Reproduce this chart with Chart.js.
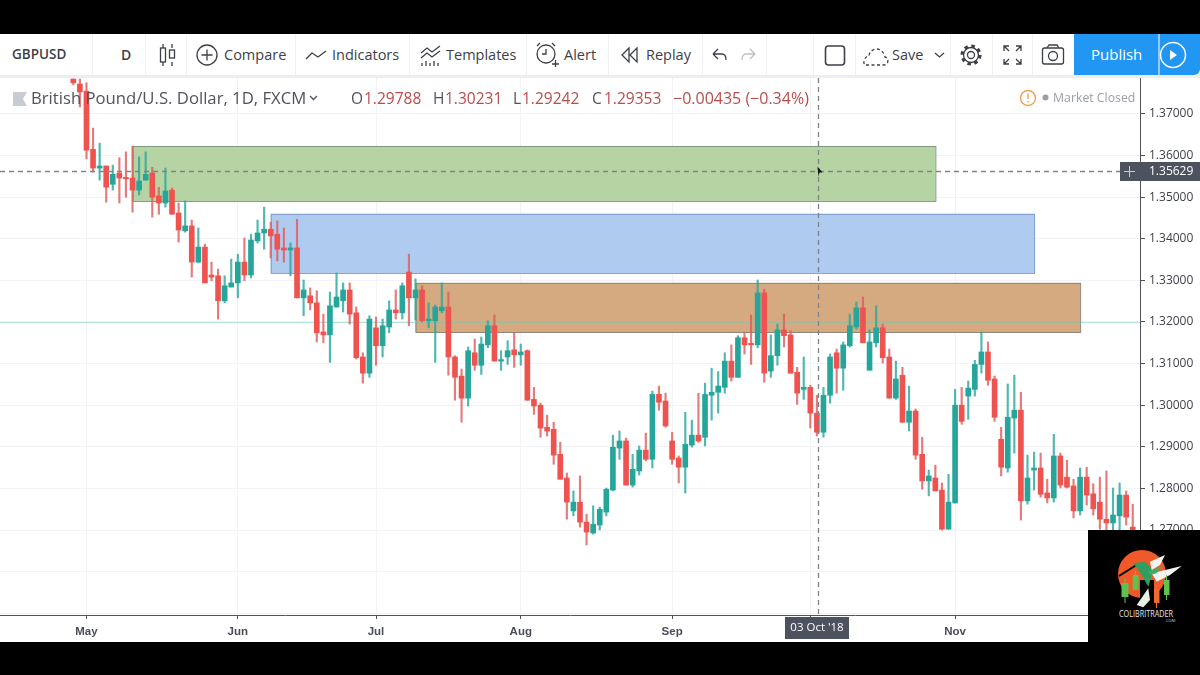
<!DOCTYPE html>
<html>
<head>
<meta charset="utf-8">
<title>GBPUSD</title>
<script src="https://cdn.jsdelivr.net/npm/chart.js@4"></script>
<style>
html, body { margin: 0; padding: 0; background: #000; }
#page { position: relative; width: 1200px; height: 675px; overflow: hidden; background: #000;
  font-family: "Open Sans", sans-serif; }
#toolbar { position: absolute; left: 0; top: 34px; width: 1200px; height: 41px; background: #fff; }
#band { position: absolute; left: 0; top: 75px; width: 1200px; height: 3px; background: #eceef1; }
#toolbar span { position: absolute; top: 0; line-height: 41px; font-size: 14.5px; color: #3d3f48; white-space: nowrap; }
#toolbar i { position: absolute; top: 0; width: 1px; height: 41px; background: #eff0f2; }
#toolbar svg { position: absolute; left: 0; top: 0; }
#pub { position: absolute; left: 1074px; top: 0; width: 126px; height: 41px; background: #2196f3; border-radius: 0 0 6px 0; }
#chartWrap { position: absolute; left: 0; top: 78px; width: 1200px; height: 564px; background: #fff; }
#legend { position: absolute; left: 0; top: 78px; width: 1140px; height: 40px; pointer-events: none; }
#legend span { position: absolute; top: 8px; line-height: 24px; white-space: nowrap; }
#logo { position: absolute; left: 1088px; top: 530px; }
</style>
</head>
<body>
<div id="page">
  <div id="toolbar">
    <i style="left:92px"></i><i style="left:145px"></i><i style="left:186px"></i><i style="left:295px"></i><i style="left:409px"></i><i style="left:526px"></i><i style="left:608px"></i><i style="left:702px"></i><i style="left:766px"></i><i style="left:813px"></i><i style="left:855px"></i><i style="left:950px"></i><i style="left:992px"></i><i style="left:1032px"></i>
    <div id="pub"></div>
    <svg width="1200" height="41" fill="none" stroke="#3d3f48" stroke-width="1.3">
      <path d="M163 10v4M163 28v4M172 10v4M172 28v4"/><rect x="160.5" y="14" width="5" height="14"/><rect x="169.5" y="16" width="5" height="8"/>
      <circle cx="207" cy="21" r="10"/><path d="M207 15.5v11M201.5 21h11"/>
      <path d="M306 25l6-6 6 4 8-6"/>
      <path d="M421 19l6-5 5 4 8-6M421 24l6-5 5 4 8-6M422 32v-3M426 32v-5M430 32v-3M434 32v-5M438 32v-3"/>
      <circle cx="546" cy="20" r="9"/><path d="M546 15v5h-4M537 12l3-3M555 12l-3-3M552 30h7M555.500 26v7"/>
      <path d="M629 14l-7 7 7 7zM637 14l-7 7 7 7z"/>
      <path d="M713 20l5-5M713 20l5 5M713 20h9c3 0 4 3 4 6"/>
      <path stroke="#bcc0c6" d="M755 20l-5-5M755 20l-5 5M755 20h-9c-3 0-4 3-4 6"/>
      <rect x="825.500" y="12" width="19" height="19" rx="3" stroke-width="1.6"/>
      <path stroke-dasharray="3 2.500" d="M866 31h18c5 0 5-7 1-8-1-6-7-10-12-7-3 2-4 4-4 6-5 0-7 9-3 9z"/>
      <path d="M935 19l4.500 4 4.500-4"/>
      <circle cx="971" cy="21" r="3.500"/><circle cx="971" cy="21" r="7.500"/><circle cx="971" cy="21" r="9" stroke-width="3" stroke-dasharray="3.500 3.570"/>
      <path d="M1004 17v-5h5M1021 17v-5h-5M1004 25v5h5M1021 25v5h-5M1004 12l5 5M1021 12l-5 5M1004 30l5-5M1021 30l-5-5"/>
      <rect x="1042.500" y="14" width="21" height="16" rx="2"/><circle cx="1053" cy="22" r="4.500"/><path d="M1047 14l2-3h8l2 3"/>
      <path stroke="#fff" d="M1159 0v41" stroke-width="1"/>
      <circle cx="1173" cy="21" r="12.500" stroke="#fff" stroke-width="1.500"/><path d="M1170 16l7 5-7 5z" fill="#fff" stroke="none"/>
    </svg>
    <span style="left:12px;font-weight:600;font-size:13.500px">GBPUSD</span>
    <span style="left:121px;font-weight:600;font-size:14px">D</span>
    <span style="left:224px">Compare</span>
    <span style="left:332px">Indicators</span>
    <span style="left:446px">Templates</span>
    <span style="left:564px">Alert</span>
    <span style="left:646px">Replay</span>
    <span style="left:892px">Save</span>
    <span style="left:1091px;color:#fff;font-size:15px">Publish</span>
  </div>
  <div id="band"></div>
  <div id="chartWrap"><canvas id="priceChart" width="1200" height="564"></canvas></div>
  <div id="legend">
    <svg style="position:absolute;left:13px;top:14px" width="15" height="14"><path d="M0 0h14l-4 7 4 7H0z" fill="#c9cdd3"/></svg>
    <span style="left:31px;font-size:16.700px;color:#50535e">British Pound/U.S. Dollar, 1D, FXCM</span>
    <svg style="position:absolute;left:309px;top:17px" width="9" height="7" fill="none" stroke="#50535e" stroke-width="1.300"><path d="M1 1l3.500 3.500L8 1"/></svg>
    <span style="left:351px;font-size:15.500px;color:#50535e">O</span>
    <span style="left:364px;font-size:15.500px;color:#b84c4c">1.29788</span>
    <span style="left:433px;font-size:15.500px;color:#50535e">H</span>
    <span style="left:445px;font-size:15.500px;color:#b84c4c">1.30231</span>
    <span style="left:513px;font-size:15.500px;color:#50535e">L</span>
    <span style="left:522px;font-size:15.500px;color:#b84c4c">1.29242</span>
    <span style="left:592px;font-size:15.500px;color:#50535e">C</span>
    <span style="left:604px;font-size:15.500px;color:#b84c4c">1.29353</span>
    <span style="left:673px;font-size:16px;color:#b84c4c">−0.00435 (−0.34%)</span>
    <svg style="position:absolute;left:1019px;top:11px" width="18" height="18" fill="none" stroke="#f0a050" stroke-width="1.400"><circle cx="9" cy="9" r="7.500"/><path d="M9 4.500v5.500M9 12v1.500"/></svg>
    <svg style="position:absolute;left:1042px;top:16px" width="7" height="7"><circle cx="3.500" cy="3.500" r="3" fill="#9a9ea6"/></svg>
    <span style="left:1053px;font-size:12.300px;color:#9a9ea6">Market Closed</span>
  </div>
  <svg id="logo" width="112" height="112">
    <rect width="112" height="112" fill="#000"/>
    <circle cx="54" cy="44" r="24" fill="#f0592a"/>
    <path d="M31 46l19-12" stroke="#000" stroke-width="2"/>
    <rect x="52" y="50" width="14" height="24" fill="#000"/>
    <path d="M45.300 33.300L57 31.700 65.300 40 60.300 56.700 53.700 45z" fill="#2f9e5f"/>
    <path d="M62 31.700L77 25 72 35 63.700 40zM63.700 43.300L93.700 36 82 45 68.700 51.700z" fill="#f3f3ef"/>
    <path d="M60.300 41.700L73.700 36 68.700 43.300 62 45z" fill="#3fae6a"/>
    <path d="M48.700 75L60.300 58.300 62 70 55.300 77.300z" fill="#e8efe4"/>
    <path d="M36.500 48h1v5h3v14h-3v6h-1v-6h-3V53h3z" fill="#5fc24e"/>
    <path d="M47 41h1v4h2.500v15H44.700V45H47z" fill="#5fc24e"/>
    <path d="M68 54h1v5h2.500v14H69v5h-1v-5h-2V59h2z" fill="#f06a30"/>
    <path d="M78 45h1v5h2.500v15H79v5h-1v-5h-2V50h2z" fill="#5fc24e"/>
    <text x="31" y="87" textLength="54" lengthAdjust="spacingAndGlyphs" font-size="8.500" fill="#e8e8e8" font-family="Open Sans, sans-serif">COLIBRITRADER</text>
    <text x="77" y="92" font-size="4" fill="#cccccc" font-family="Open Sans, sans-serif">.COM</text>
  </svg>
</div>
<script>
// daily GBPUSD candles
const highs = [
  1.3784,1.3784,1.3775,1.3666,1.3630,1.3575,1.3577,1.3595,1.3609,1.3623,
  1.3597,1.3609,1.3572,1.3524,1.3570,1.3522,1.3486,1.3491,1.3445,1.3426,
  1.3387,1.3344,1.3327,1.3311,1.3351,1.3363,1.3402,1.3411,1.3445,1.3476,
  1.3440,1.3443,1.3426,1.3390,1.3447,1.3301,1.3282,1.3275,1.3219,1.3272,
  1.3318,1.3294,1.3294,1.3236,1.3126,1.3215,1.3212,1.3207,1.3251,1.3277,
  1.3294,1.3363,1.3304,1.3287,1.3246,1.3241,1.3294,1.3272,1.3119,1.3087,
  1.3140,1.3159,1.3164,1.3203,1.3217,1.3131,1.3155,1.3174,1.3147,1.3133,
  1.3043,1.3005,1.2976,1.2959,1.2911,1.2837,1.2794,1.2830,1.2738,1.2758,
  1.2755,1.2801,1.2928,1.2938,1.2921,1.2882,1.2902,1.2933,1.3034,1.3046,
  1.3029,1.2935,1.2878,1.2983,1.2964,1.3029,1.3053,1.3089,1.3081,1.3126,
  1.3145,1.3167,1.3174,1.3217,1.3301,1.3279,1.3169,1.3195,1.3219,1.3179,
  1.3091,1.3116,1.3048,1.3024,1.3043,1.3123,1.3135,1.3152,1.3219,1.3248,
  1.3260,1.3181,1.3239,1.3195,1.3135,1.3106,1.3091,1.3046,1.2991,1.2923,
  1.2844,1.2856,1.2813,1.2834,1.3038,1.3043,1.3058,1.3108,1.3176,1.3152,
  1.3070,1.2947,1.3051,1.3072,1.3031,1.2880,1.2887,1.2885,1.2822,1.2930,
  1.2885,1.2868,1.2822,1.2849,1.2851,1.2811,1.2827,1.2842,1.2801,1.2813,
  1.2794,1.2762
];
const lows = [
  1.3770,1.3717,1.3592,1.3560,1.3541,1.3488,1.3517,1.3486,1.3500,1.3464,
  1.3505,1.3541,1.3452,1.3459,1.3476,1.3459,1.3392,1.3416,1.3308,1.3342,
  1.3294,1.3299,1.3207,1.3246,1.3284,1.3258,1.3299,1.3306,1.3390,1.3375,
  1.3354,1.3347,1.3344,1.3311,1.3258,1.3215,1.3229,1.3152,1.3150,1.3103,
  1.3236,1.3224,1.3195,1.3111,1.3053,1.3067,1.3096,1.3116,1.3174,1.3207,
  1.3207,1.3191,1.3205,1.3200,1.3186,1.3103,1.3222,1.3072,1.3012,1.2959,
  1.2998,1.3084,1.3074,1.3138,1.3106,1.3084,1.3098,1.3091,1.3096,1.3012,
  1.2978,1.2923,1.2926,1.2858,1.2822,1.2726,1.2734,1.2707,1.2664,1.2690,
  1.2700,1.2734,1.2794,1.2870,1.2808,1.2803,1.2832,1.2866,1.2849,1.2988,
  1.2947,1.2858,1.2813,1.2789,1.2899,1.2911,1.2902,1.2964,1.2981,1.3029,
  1.3058,1.3067,1.3123,1.3098,1.3138,1.3055,1.3067,1.3096,1.3140,1.3077,
  1.3002,1.3014,1.2945,1.2926,1.2923,1.3005,1.3029,1.3036,1.3140,1.3183,
  1.3150,1.3084,1.3140,1.3101,1.3017,1.3014,1.2959,1.2938,1.2870,1.2798,
  1.2782,1.2794,1.2700,1.2702,1.2765,1.2954,1.2966,1.3022,1.3077,1.3048,
  1.2961,1.2830,1.2839,1.2885,1.2724,1.2762,1.2796,1.2779,1.2765,1.2767,
  1.2801,1.2801,1.2729,1.2736,1.2760,1.2736,1.2702,1.2700,1.2700,1.2700,
  1.2712,1.2700
];
const opens = [
  1.3784,1.3772,1.3755,1.3615,1.3570,1.3575,1.3531,1.3558,1.3546,1.3546,
  1.3517,1.3541,1.3558,1.3503,1.3486,1.3517,1.3462,1.3419,1.3431,1.3344,
  1.3380,1.3313,1.3311,1.3251,1.3284,1.3294,1.3344,1.3313,1.3395,1.3414,
  1.3423,1.3411,1.3378,1.3373,1.3378,1.3258,1.3263,1.3246,1.3176,1.3169,
  1.3236,1.3251,1.3277,1.3222,1.3116,1.3077,1.3186,1.3143,1.3188,1.3229,
  1.3222,1.3320,1.3258,1.3277,1.3203,1.3203,1.3227,1.3236,1.3116,1.3070,
  1.3017,1.3126,1.3096,1.3145,1.3191,1.3106,1.3116,1.3133,1.3121,1.3131,
  1.3014,1.3000,1.2947,1.2942,1.2882,1.2825,1.2746,1.2767,1.2719,1.2693,
  1.2712,1.2743,1.2796,1.2897,1.2914,1.2808,1.2842,1.2892,1.2870,1.3026,
  1.3010,1.2914,1.2873,1.2851,1.2904,1.2928,1.2923,1.3024,1.3031,1.3043,
  1.3106,1.3067,1.3162,1.3147,1.3145,1.3270,1.3082,1.3119,1.3181,1.3169,
  1.3079,1.3038,1.3043,1.2981,1.2935,1.3024,1.3126,1.3089,1.3143,1.3188,
  1.3234,1.3084,1.3150,1.3186,1.3116,1.3017,1.3072,1.2959,1.2986,1.2882,
  1.2818,1.2825,1.2796,1.2702,1.2765,1.3000,1.3022,1.3038,1.3098,1.3128,
  1.3063,1.2918,1.2849,1.2969,1.2988,1.2770,1.2844,1.2849,1.2789,1.2777,
  1.2878,1.2827,1.2806,1.2746,1.2827,1.2787,1.2767,1.2726,1.2717,1.2734,
  1.2784,1.2707
];
const closes = [
  1.3775,1.3753,1.3613,1.3570,1.3575,1.3524,1.3555,1.3546,1.3544,1.3517,
  1.3539,1.3555,1.3500,1.3486,1.3515,1.3459,1.3421,1.3431,1.3344,1.3380,
  1.3294,1.3308,1.3251,1.3287,1.3294,1.3344,1.3313,1.3397,1.3414,1.3423,
  1.3407,1.3375,1.3373,1.3378,1.3258,1.3277,1.3246,1.3174,1.3169,1.3239,
  1.3260,1.3277,1.3219,1.3114,1.3077,1.3207,1.3143,1.3191,1.3229,1.3222,
  1.3287,1.3258,1.3277,1.3203,1.3207,1.3236,1.3236,1.3116,1.3067,1.3017,
  1.3131,1.3096,1.3147,1.3191,1.3106,1.3108,1.3131,1.3121,1.3128,1.3012,
  1.2998,1.2945,1.2938,1.2880,1.2822,1.2767,1.2767,1.2719,1.2695,1.2714,
  1.2750,1.2798,1.2899,1.2914,1.2808,1.2846,1.2892,1.2870,1.3026,1.3007,
  1.2950,1.2870,1.2851,1.2906,1.2928,1.2914,1.3026,1.3031,1.3046,1.3106,
  1.3067,1.3162,1.3145,1.3145,1.3270,1.3077,1.3119,1.3181,1.3167,1.3077,
  1.3029,1.3043,1.2981,1.2935,1.3024,1.3116,1.3089,1.3145,1.3191,1.3234,
  1.3150,1.3152,1.3186,1.3114,1.3017,1.3063,1.2959,1.2986,1.2880,1.2818,
  1.2830,1.2794,1.2702,1.2767,1.3000,1.2961,1.3041,1.3098,1.3128,1.3060,
  1.2971,1.2851,1.2971,1.2988,1.2770,1.2825,1.2849,1.2786,1.2777,1.2878,
  1.2808,1.2803,1.2746,1.2827,1.2784,1.2751,1.2726,1.2717,1.2736,1.2784,
  1.2731,1.2700
];
const monthTicks = [2, 25, 46, 68, 91, 112, 134];
const monthLabels = ['May', 'Jun', 'Jul', 'Aug', 'Sep', 'Oct', 'Nov'];

// drawn boxes
const zoneStart = [9, 30, 52];
const zoneEnd = [131, 146, 153];
const zoneTop = [1.3623, 1.3460, 1.3294];
const zoneBottom = [1.3491, 1.3318, 1.3176];
const zoneFill = ['#b6d4a3', '#afcbf0', '#d5aa80'];
const zoneLine = ['#7f9a80', '#7c9ccb', '#908478'];

const levelPrice = 1.32;
const crossIndex = 113;
const crossPrice = 1.35629;
const crossDate = "03 Oct '18";
const crossPriceLabel = '1.35629';

const red = '#ef5350';
const green = '#26a69a';
const up = closes.map((c, i) => c >= opens[i]);

// boxes and the level go under the candles, crosshair over them
const drawings = {
    id: 'drawings',
    beforeDatasetsDraw(chart) {
        const {ctx, scales: {x, y}, chartArea} = chart;
        ctx.save();
        zoneStart.forEach((start, i) => {
            const left = x.getPixelForValue(start);
            const right = x.getPixelForValue(zoneEnd[i]);
            const top = y.getPixelForValue(zoneTop[i]);
            const bottom = y.getPixelForValue(zoneBottom[i]);
            ctx.fillStyle = zoneFill[i];
            ctx.fillRect(left, top, right - left, bottom - top);
            ctx.strokeStyle = zoneLine[i];
            ctx.lineWidth = 1;
            ctx.strokeRect(left + 0.5, top + 0.5, right - left, bottom - top);
        });
        const level = Math.round(y.getPixelForValue(levelPrice)) + 0.5;
        ctx.strokeStyle = 'rgba(110,200,180,0.5)';
        ctx.beginPath();
        ctx.moveTo(chartArea.left, level);
        ctx.lineTo(chartArea.right, level);
        ctx.stroke();
        ctx.restore();
    },
    afterDraw(chart) {
        const {ctx, scales: {x, y}, chartArea} = chart;
        const cx = Math.round(x.getPixelForValue(crossIndex)) + 1.5;
        const cy = Math.round(y.getPixelForValue(crossPrice)) + 0.5;
        ctx.save();
        ctx.strokeStyle = '#808389';
        ctx.lineWidth = 1.3;
        ctx.setLineDash([5, 4]);
        ctx.beginPath();
        ctx.moveTo(cx, chartArea.top);
        ctx.lineTo(cx, chartArea.bottom);
        ctx.moveTo(chartArea.left, cy);
        ctx.lineTo(chartArea.right, cy);
        ctx.stroke();
        ctx.setLineDash([]);
        ctx.lineWidth = 1;

        // price tag on the axis
        ctx.fillStyle = '#4c525e';
        ctx.fillRect(1120, cy - 9.5, 80, 19);
        ctx.strokeStyle = '#c9ccd2';
        ctx.beginPath();
        ctx.moveTo(1124, cy);
        ctx.lineTo(1135, cy);
        ctx.moveTo(1129.5, cy - 5.5);
        ctx.lineTo(1129.5, cy + 5.5);
        ctx.stroke();
        ctx.fillStyle = '#fff';
        ctx.font = '12px "Open Sans", sans-serif';
        ctx.textBaseline = 'middle';
        ctx.fillText(crossPriceLabel, 1149, cy + 0.5);

        // date tag
        ctx.fillStyle = '#4c525e';
        ctx.fillRect(785, chartArea.bottom + 2, 64, 22);
        ctx.fillStyle = '#fff';
        ctx.textAlign = 'center';
        ctx.font = '11.5px "Open Sans", sans-serif';
        ctx.fillText(crossDate, 817, chartArea.bottom + 13);

        // mouse pointer
        ctx.fillStyle = '#111';
        ctx.beginPath();
        ctx.moveTo(cx - 1, cy - 5);
        ctx.lineTo(cx + 4, cy + 1);
        ctx.lineTo(cx + 1, cy + 1);
        ctx.lineTo(cx, cy + 5);
        ctx.closePath();
        ctx.fill();
        ctx.restore();
    }
};

const chart = new Chart(document.getElementById('priceChart'), {
    type: 'bar',
    data: {
        datasets: [
            {
                // bodies
                data: opens.map((o, i) => ({x: i, y: [o, closes[i]]})),
                backgroundColor: up.map(u => u ? green : red),
                barThickness: 5,
                minBarLength: 1.5,
                grouped: false,
                order: 1
            },
            {
                // wicks
                data: highs.map((h, i) => ({x: i, y: [lows[i], h]})),
                backgroundColor: up.map(u => u ? 'rgba(38,166,154,0.8)' : 'rgba(222,90,90,0.8)'),
                barThickness: 1.5,
                grouped: false,
                order: 2
            }
        ]
    },
    options: {
        responsive: false,
        animation: false,
        layout: {padding: 0},
        plugins: {legend: {display: false}, tooltip: {enabled: false}},
        scales: {
            x: {
                type: 'linear',
                offset: false,
                min: -11.14,
                max: 162.1,
                grid: {offset: false, color: '#f1f3f5', tickLength: 4, tickColor: '#50535e'},
                border: {color: '#50535e'},
                afterBuildTicks(scale) {
                    scale.ticks = monthTicks.map(value => ({value}));
                },
                afterFit(scale) {
                    scale.height = 27;
                    scale.paddingLeft = 0;
                    scale.paddingRight = 0;
                },
                ticks: {
                    autoSkip: false,
                    maxRotation: 0,
                    padding: 6,
                    color: '#4a4d57',
                    font: {family: '"Liberation Sans", sans-serif', size: 11.5, weight: 'bold'},
                    callback: value => monthLabels[monthTicks.indexOf(value)]
                }
            },
            y: {
                position: 'right',
                min: 1.24957,
                max: 1.37865,
                grid: {color: '#f1f3f5', tickLength: 5, tickColor: '#50535e'},
                border: {color: '#50535e'},
                afterFit(scale) {
                    scale.width = 60;
                    scale.paddingTop = 0;
                    scale.paddingBottom = 0;
                },
                ticks: {
                    stepSize: 0.01,
                    includeBounds: false,
                    padding: 4,
                    color: '#3d3f48',
                    font: {family: '"Open Sans", sans-serif', size: 12},
                    callback: value => value.toFixed(5)
                }
            }
        }
    },
    plugins: [drawings]
});
</script>
</body>
</html>
